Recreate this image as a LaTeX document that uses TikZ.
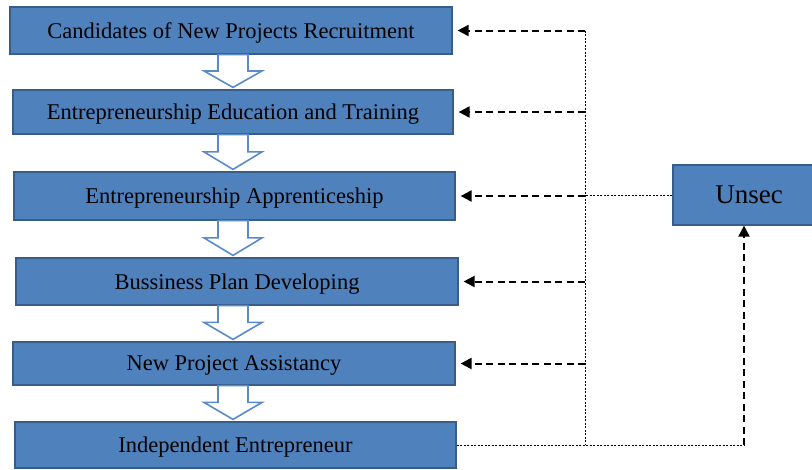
\documentclass[tikz,border=0pt]{standalone}
\usepackage{fontspec}
\setmainfont{Liberation Serif}
\usetikzlibrary{arrows.meta,calc}
\definecolor{boxfill}{HTML}{4F81BD}
\definecolor{boxline}{HTML}{385D8A}
\definecolor{arrline}{HTML}{5B8BC7}
\newcommand\blockarr[2]{%
  \draw[blockarrow] let \p1=(#1.south), \p2=(#2.north), \n1={0.47*(\y1-\y2)} in
    (218pt,\y1) -- (248pt,\y1) -- (248pt,\y1-\n1) -- (262pt,\y1-\n1) -- (233pt,\y2+2pt)
    -- (204pt,\y1-\n1) -- (218pt,\y1-\n1) -- cycle;}
\begin{document}
\begin{tikzpicture}[x=1pt,y=-1pt,
  stepbox/.style={draw=boxline,line width=1.2pt,fill=boxfill,rectangle,inner sep=0pt,
    text depth=0pt,font=\fontsize{22.5}{26}\selectfont},
  blockarrow/.style={draw=arrline,line width=1.6pt,fill=white,line join=miter},
  dasharrow/.style={line width=2pt,dash pattern=on 7pt off 4.5pt,-{Triangle[length=11pt,width=11pt]}},
  dotline/.style={line width=1pt,dash pattern=on 2pt off 1.5pt}]
\useasboundingbox (0,0) rectangle (812,469);
\begin{scope}
\clip (0,0) rectangle (812,469);
\node[stepbox,minimum width=442pt,minimum height=47pt] (b1) at (231,30.5) {Candidates of New Projects Recruitment};
\node[stepbox,minimum width=440pt,minimum height=44pt] (b2) at (233,112) {Entrepreneurship Education and Training};
\node[stepbox,minimum width=441pt,minimum height=48pt] (b3) at (234.5,196) {Entrepreneurship Apprenticeship};
\node[stepbox,minimum width=442pt,minimum height=47pt] (b4) at (237,281.5) {Bussiness Plan Developing};
\node[stepbox,minimum width=442pt,minimum height=43pt] (b5) at (234,363.5) {New Project Assistancy};
\node[stepbox,minimum width=441pt,minimum height=46pt] (b6) at (235.5,445) {Independent Entrepreneur};
\node[stepbox,minimum width=152pt,minimum height=60pt,font=\fontsize{27}{30}\selectfont] (u) at (749,195) {Unsec};
\end{scope}
\blockarr{b1}{b2}
\blockarr{b2}{b3}
\blockarr{b3}{b4}
\blockarr{b4}{b5}
\blockarr{b5}{b6}
\coordinate (vx) at (585,0);
\coordinate (ux) at (744,0);
\foreach \b in {b1,b2,b3,b4,b5}{
  \draw[dasharrow] (\b.east -| vx) -- ([xshift=5pt]\b.east);
}
\draw[dotline] (b1.east -| vx) -- (b6.east -| vx);
\draw[dotline] (u.west) -- (u.west -| vx);
\draw[dotline] (b6.east) -- (b6.east -| ux);
\draw[dasharrow] (b6.east -| ux) -- (u.south -| ux);
\end{tikzpicture}
\end{document}
